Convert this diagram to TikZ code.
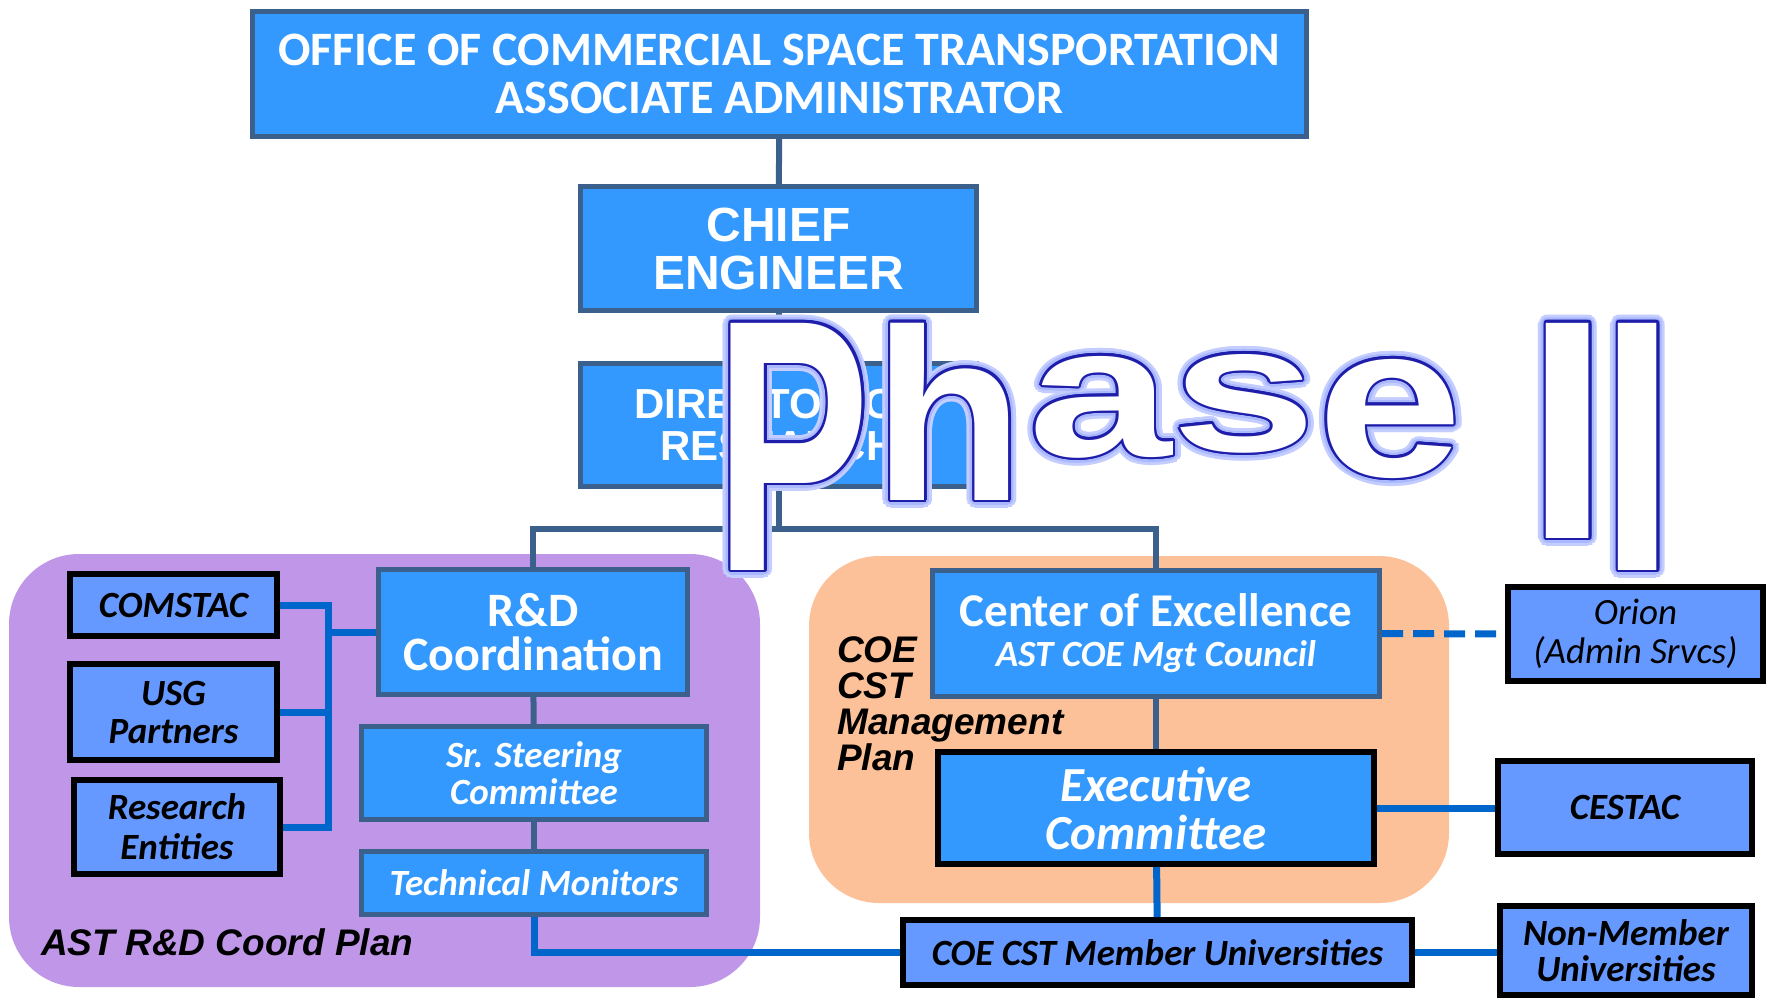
\documentclass[tikz,border=0pt]{standalone}
\usepackage{fontspec}
\usepackage{graphicx}
\setmainfont{Carlito}
\newfontfamily\arialfont{Liberation Sans}
\definecolor{boxblue}{RGB}{51,153,255}
\definecolor{slate}{RGB}{59,96,140}
\definecolor{paleblue}{RGB}{102,153,255}
\definecolor{tieblue}{RGB}{0,102,204}
\definecolor{rdpurple}{RGB}{192,151,232}
\definecolor{coeorange}{RGB}{252,193,152}
\definecolor{phaseline}{RGB}{30,30,170}
\definecolor{phaseglow}{RGB}{170,184,255}
\tikzset{
  unit/.style={
    rectangle,
    draw=slate,
    line width=5pt,
    fill=boxblue,
    text=white,
    align=center,
    inner sep=0pt
  },
  partner/.style={
    rectangle,
    draw=black,
    line width=6pt,
    fill=paleblue,
    text=black,
    align=center,
    inner sep=0pt,
    font=\fontsize{37}{38}\selectfont\bfseries\itshape
  },
  region/.style={rectangle, rounded corners=70pt, inner sep=0pt},
  link/.style={draw=slate, line width=6pt},
  tie/.style={draw=tieblue, line width=7pt},
  glyph/.style={inner sep=0pt, font=\arialfont\bfseries}
}
\def\phasetxt#1#2#3{\resizebox{#1pt}{#2pt}{#3}}
\def\phaseletters{793/446.5/154/247/P, 949/411.5/150/177/h, 1100/407/143/100/a, 1244/403.5/145/97/s, 1390/418.5/145/117/e, 1568/430.5/82/215/I, 1638/446.5/74/247/I}

\begin{document}
\begin{tikzpicture}[x=1pt, y=-1pt]
    \useasboundingbox (0,0) rectangle (1771,1001);
    \node[region, fill=rdpurple, minimum width=751, minimum height=433] (rdplan) at (384.5,770.5) {};
    \node[region, fill=coeorange, minimum width=640, minimum height=347] (coeplan) at (1129,729.5) {};
    \node[anchor=base west, inner sep=0pt, font=\arialfont\fontsize{37}{40}\selectfont\bfseries\itshape] (rdlabel) at (41,955) {AST R\&D Coord Plan};
    \node[anchor=north west, inner sep=0pt, align=left, font=\arialfont\fontsize{37}{36}\selectfont\bfseries\itshape] (coelabel) at (837,636) {COE\\CST\\Management\\Plan};

    \node[unit, minimum width=1054, minimum height=125, font=\fontsize{48}{48}\selectfont\bfseries] (office) at (779.5,74) {OFFICE OF COMMERCIAL SPACE TRANSPORTATION\\ASSOCIATE ADMINISTRATOR};
    \node[unit, minimum width=396, minimum height=124, font=\arialfont\fontsize{48}{48}\selectfont\bfseries] (chief) at (778.5,248.5) {CHIEF\\ENGINEER};
    \node[unit, minimum width=396, minimum height=123, font=\arialfont\fontsize{42}{42}\selectfont\bfseries] (director) at (778.5,425) {DIRECTOR OF\\RESEARCH};
    \node[unit, minimum width=309, minimum height=125, font=\fontsize{48}{44}\selectfont\bfseries] (rdcoord) at (533,632) {R\&D\\Coordination};
    \node[unit, minimum width=345, minimum height=93, font=\fontsize{37}{37}\selectfont\bfseries\itshape] (steering) at (534,773) {Sr. Steering\\Committee};
    \node[unit, minimum width=345, minimum height=63, font=\fontsize{37}{37}\selectfont\bfseries\itshape] (monitors) at (534,883) {Technical Monitors};
    \node[partner, minimum width=207, minimum height=62] (comstac) at (173.5,605) {COMSTAC};
    \node[partner, minimum width=207, minimum height=96] (usg) at (173.5,712) {USG\\Partners};
    \node[partner, minimum width=206, minimum height=94, font=\fontsize{37}{40}\selectfont\bfseries\itshape] (entities) at (177,827) {Research\\Entities};
    \node[unit, minimum width=447, minimum height=126, font=\fontsize{47}{40}\selectfont\bfseries] (coe) at (1156,633.5) {Center of Excellence\\{\fontsize{37}{40}\selectfont\itshape AST COE Mgt Council}};
    \node[unit, draw=black, line width=6pt, minimum width=436, minimum height=112, font=\fontsize{49}{48}\selectfont\bfseries\itshape] (exec) at (1156,808) {Executive\\Committee};
    \node[partner, minimum width=509, minimum height=65] (members) at (1157.5,952.5) {COE CST Member Universities};
    \node[partner, minimum width=255, minimum height=94, font=\fontsize{37}{39}\selectfont\itshape] (orion) at (1635.5,634) {Orion\\(Admin Srvcs)};
    \node[partner, minimum width=254, minimum height=93] (cestac) at (1625,807.5) {CESTAC};
    \node[partner, minimum width=252, minimum height=89, font=\fontsize{37}{36}\selectfont\bfseries\itshape] (nonmembers) at (1626,950.5) {Non-Member\\Universities};

    \coordinate (fork) at (778.5,529);
    \coordinate (rail) at (328,632);
    \draw[link] (office) -- (chief);
    \draw[link] (chief) -- (director);
    \draw[link] (director) -- (fork);
    \draw[link] (rdcoord) |- (fork) -| (coe);
    \draw[link] (rdcoord) -- (steering);
    \draw[link] (steering) -- (monitors);
    \draw[link] (coe) -- (exec);
    \draw[tie] (comstac.east) -| (rail);
    \draw[tie] (usg.east) -| (rail);
    \draw[tie] (entities.east) -| (rail);
    \draw[tie] (rail) -- (rdcoord.west);
    \draw[tie] (monitors) |- (members);
    \draw[tie] (exec) -- (members);
    \draw[tie, dash pattern=on 21pt off 10pt] (coe.east) -- (orion.west);
    \draw[tie] (exec.east) -- (exec.east -| cestac.west);
    \draw[tie] (members.east) -- (members.east -| nonmembers.west);

    \foreach \lx/\ly/\lw/\lh/\lc in \phaseletters {
        \foreach \a in {0,15,...,345}
            \node[glyph, text=phaseglow!70, shift={(\a:8)}] at (\lx,\ly) {\phasetxt\lw\lh\lc};
    }
    \foreach \lx/\ly/\lw/\lh/\lc in \phaseletters {
        \foreach \a in {0,15,...,345}
            \node[glyph, text=phaseglow, shift={(\a:5)}] at (\lx,\ly) {\phasetxt\lw\lh\lc};
    }
    \foreach \lx/\ly/\lw/\lh/\lc in \phaseletters {
        \foreach \a in {0,30,...,330}
            \node[glyph, text=phaseline, shift={(\a:2.5)}] at (\lx,\ly) {\phasetxt\lw\lh\lc};
    }
    \foreach \lx/\ly/\lw/\lh/\lc [count=\i] in \phaseletters
        \node[glyph, text=white] (phase\i) at (\lx,\ly) {\phasetxt\lw\lh\lc};
\end{tikzpicture}
\end{document}
